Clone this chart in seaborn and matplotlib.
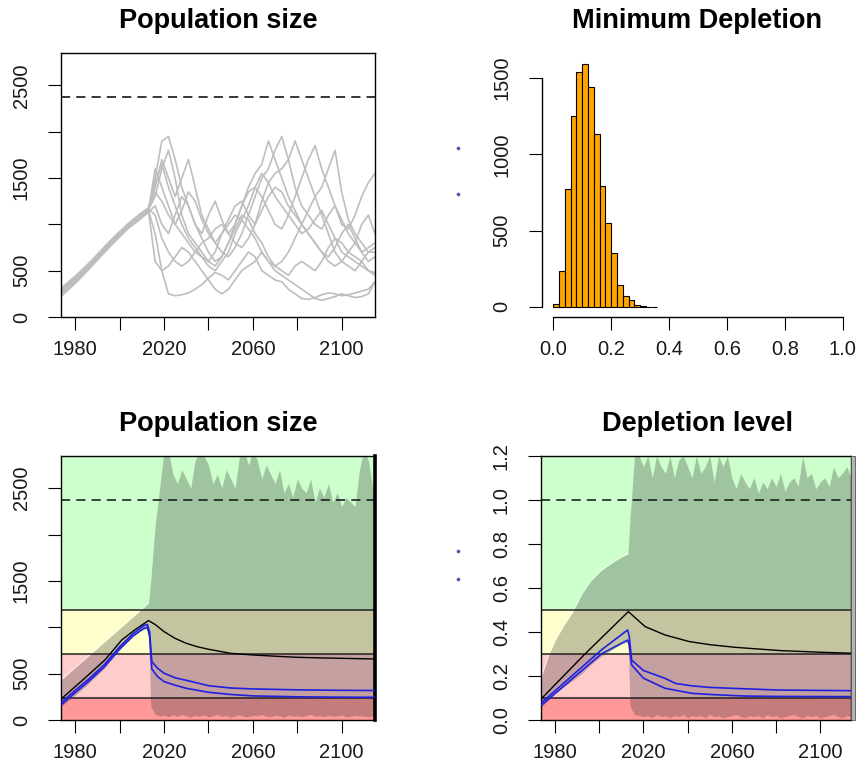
import numpy as np
import pandas as pd
import matplotlib
matplotlib.use("Agg")
import matplotlib.pyplot as plt
from matplotlib.lines import Line2D
from matplotlib.patches import Rectangle
import seaborn as sns

sns.set_style("ticks")
plt.rcParams["font.family"] = ["Liberation Sans", "DejaVu Sans"]

W, H, DPI = 859, 770, 100

# ---------------- data ----------------
K = 2376  # carrying capacity (dashed line)

# individual projected runs (top-left)
run_hist_years = [1974, 1979, 1984, 1989, 1994, 1999, 2004, 2009]
run_proj_years = list(range(2013, 2116, 3))

run01 = [250, 360, 480, 600, 730, 860, 970, 1070,
         1150, 1500, 1900, 1950, 1700, 1400, 1200, 1000, 900, 1100, 1250, 1050, 900, 1000, 1200, 1400, 1550,
         1650, 1900, 1700, 1500, 1300, 1150, 1000, 900, 800, 700, 650, 750, 900, 1000, 850, 700, 600, 650]
run02 = [290, 390, 500, 620, 750, 870, 990, 1090,
         1150, 900, 500, 250, 230, 240, 260, 300, 350, 420, 480, 450, 400, 500, 600, 700, 650,
         500, 450, 400, 380, 300, 250, 200, 190, 210, 240, 260, 250, 230, 240, 260, 280, 300, 380]
run03 = [230, 340, 460, 590, 720, 840, 960, 1060,
         1160, 1300, 1600, 1800, 1500, 1100, 900, 800, 700, 600, 550, 650, 800, 950, 1100, 1050, 900,
         800, 650, 550, 500, 450, 550, 600, 550, 500, 600, 750, 850, 800, 700, 650, 600, 500, 450]
run04 = [310, 410, 520, 640, 770, 890, 1000, 1100,
         1170, 1400, 1700, 1500, 1300, 1500, 1700, 1400, 1100, 950, 800, 700, 650, 750, 900, 1100, 1300,
         1500, 1600, 1800, 1950, 1700, 1400, 1200, 1100, 1000, 950, 1100, 1200, 1050, 900, 800, 700, 750, 800]
run05 = [270, 370, 490, 610, 740, 850, 980, 1080,
         1140, 600, 500, 550, 650, 750, 700, 600, 500, 400, 300, 250, 300, 400, 500, 550, 600,
         700, 600, 500, 450, 400, 350, 300, 250, 200, 180, 200, 220, 250, 230, 210, 220, 250, 380]
run06 = [240, 350, 470, 600, 720, 850, 960, 1050,
         1130, 1200, 1000, 900, 1100, 1300, 1200, 1000, 850, 700, 600, 650, 800, 1000, 1200, 1350, 1400,
         1300, 1150, 1000, 950, 1100, 1300, 1500, 1700, 1850, 1600, 1400, 1200, 1000, 950, 1100, 1300, 1450, 1550]
run07 = [300, 400, 510, 630, 760, 880, 990, 1090,
         1160, 1350, 1250, 1100, 1000, 1150, 1350, 1250, 1050, 900, 800, 900, 1000, 1100, 1050, 950, 850,
         700, 600, 550, 600, 700, 850, 1000, 1150, 1300, 1400, 1600, 1800, 1350, 1050, 900, 800, 700, 700]
run08 = [260, 370, 480, 610, 740, 860, 980, 1070,
         1150, 1600, 1400, 1200, 1000, 900, 800, 700, 650, 600, 700, 900, 1050, 1200, 1250, 1100, 1000,
         1250, 1450, 1550, 1600, 1700, 1900, 1700, 1500, 1300, 1100, 900, 700, 600, 550, 500, 600, 700, 750]
run09 = [280, 380, 500, 620, 750, 870, 1000, 1100,
         1170, 1100, 850, 700, 600, 550, 600, 700, 800, 850, 950, 1000, 900, 800, 750, 850, 1000,
         1150, 1300, 1400, 1350, 1200, 1100, 1000, 900, 800, 700, 600, 550, 600, 700, 800, 1000, 1100, 900]
run10 = [320, 420, 530, 650, 780, 900, 1010, 1110,
         1180, 1450, 1650, 1400, 1200, 1000, 850, 750, 650, 550, 500, 600, 700, 900, 1050, 1200, 1400,
         1550, 1450, 1300, 1200, 1100, 1000, 900, 950, 1050, 1150, 1000, 850, 700, 650, 600, 550, 500, 480]
runs = [run01, run02, run03, run04, run05, run06, run07, run08, run09, run10]

# minimum depletion histogram (top-right)
hist_edges = [round(0.02 * i, 2) for i in range(19)]
hist_counts = [18, 235, 770, 1250, 1540, 1595, 1440, 1135, 793, 552,
               354, 142, 74, 44, 9, 3, 1, 1]

# envelope of all simulations (bottom panels)
fan_hist_years = [1974, 1977, 1980, 1984, 1988, 1992, 1996, 2001, 2006, 2010, 2013]
fan_proj_years = list(range(2014, 2115, 2)) + [2116]

pop_fan_hist_hi = [440, 503, 566, 650, 734, 818, 902, 1007, 1112, 1196, 1260]
pop_fan_hist_lo = [150, 210, 270, 350, 440, 530, 640, 780, 900, 970, 980]
pop_fan_proj_hi = [1500, 2100, 2500, 2900, 2900, 2650, 2550, 2700, 2600, 2500,
                   2800, 2900, 2850, 2750, 2550, 2650, 2500, 2700, 2600, 2500,
                   2850, 2900, 2750, 2900, 2800, 2600, 2750, 2650, 2550, 2700,
                   2450, 2550, 2400, 2600, 2500, 2450, 2600, 2350, 2500, 2400,
                   2550, 2350, 2450, 2300, 2400, 2350, 2300, 2700, 2900, 2800, 2500, 2500]
pop_fan_proj_lo = [150, 60, 45, 50, 35, 55, 40, 60, 45, 30,
                   50, 40, 55, 35, 45, 60, 40, 50, 30, 45,
                   55, 40, 35, 50, 45, 60, 40, 35, 50, 45,
                   30, 55, 40, 45, 35, 50, 60, 40, 45, 35,
                   50, 40, 45, 55, 35, 40, 50, 45, 40, 35, 45, 45]

dep_fan_hist_hi = [0.20, 0.29, 0.36, 0.43, 0.49, 0.57, 0.63, 0.68, 0.715, 0.74, 0.755]
dep_fan_hist_lo = [0.06, 0.09, 0.12, 0.15, 0.18, 0.21, 0.25, 0.29, 0.32, 0.345, 0.355]
dep_fan_proj_hi = [0.92, 1.20, 1.20, 1.15, 1.20, 1.10, 1.20, 1.15, 1.12, 1.20,
                   1.10, 1.18, 1.20, 1.15, 1.10, 1.20, 1.12, 1.15, 1.20, 1.08,
                   1.20, 1.15, 1.20, 1.10, 1.05, 1.12, 1.08, 1.05, 1.10, 1.03,
                   1.08, 1.05, 1.10, 1.06, 1.12, 1.04, 1.08, 1.10, 1.06, 1.20,
                   1.10, 1.12, 1.05, 1.08, 1.10, 1.06, 1.15, 1.10, 1.12, 1.15, 1.10, 1.10]
dep_fan_proj_lo = [0.06, 0.025, 0.02, 0.015, 0.02, 0.01, 0.025, 0.015, 0.02, 0.01,
                   0.02, 0.015, 0.025, 0.01, 0.02, 0.015, 0.02, 0.01, 0.025, 0.015,
                   0.02, 0.01, 0.015, 0.02, 0.025, 0.015, 0.01, 0.02, 0.015, 0.02,
                   0.01, 0.025, 0.015, 0.02, 0.01, 0.015, 0.02, 0.025, 0.015, 0.01,
                   0.02, 0.015, 0.02, 0.01, 0.015, 0.02, 0.025, 0.015, 0.01, 0.02, 0.015, 0.015]

# summary curves (bottom panels)
pop_black_years = [1974, 1983, 1993.4, 2001, 2007, 2013, 2016, 2020, 2025, 2030,
                   2035, 2040, 2050, 2060, 2070, 2080, 2090, 2100, 2115]
pop_black = [234, 423, 648, 864, 975, 1072, 1030, 953, 880, 827,
             790, 763, 719, 701, 688, 676, 670, 665, 658]
pop_blue_years = [1974, 1980, 1986, 1993, 2000, 2006, 2011, 2012.5, 2013.5, 2014.5,
                  2017, 2020, 2025, 2030, 2040, 2050, 2060, 2080, 2100, 2115]
pop_blue_hi = [195, 320, 440, 594, 790, 930, 1020, 1030, 950, 630,
               560, 504, 455, 428, 370, 345, 335, 325, 320, 318]
pop_blue_lo = [170, 295, 415, 570, 765, 905, 990, 1000, 900, 550,
               470, 414, 375, 342, 299, 275, 260, 250, 246, 245]

dep_black_years = [1974, 1993.6, 2013.2, 2020.8, 2029.8, 2040.8, 2050, 2061.5, 2082, 2102, 2115]
dep_black = [0.098, 0.30, 0.492, 0.424, 0.386, 0.356, 0.342, 0.330, 0.315, 0.307, 0.303]
dep_blue_years = [1974, 2001, 2012.9, 2013.6, 2014.7, 2020, 2029.8, 2034.6, 2042, 2050, 2065, 2081, 2115]
dep_blue_hi = [0.079, 0.318, 0.409, 0.38, 0.272, 0.225, 0.189, 0.166, 0.155, 0.148, 0.142, 0.136, 0.133]
dep_blue_lo = [0.068, 0.30, 0.363, 0.34, 0.25, 0.19, 0.144, 0.135, 0.121, 0.116, 0.109, 0.107, 0.106]

year_ticks = [1980, 2000, 2020, 2040, 2060, 2080, 2100]
year_labels = ["1980", "", "2020", "", "2060", "", "2100"]
pop_ticks = [0, 500, 1000, 1500, 2000, 2500]
pop_labels = ["0", "500", "", "1500", "", "2500"]

# ---------------- styling ----------------
TICK_FS = 14.5
TITLE_FS = 19.5
INK = "#1a1a1a"
BAND_COLORS = ["#FF9999", "#FFCCCC", "#FFFFCC", "#CCFFCC"]
FAN_COLOR = "#3c3c3c"
FAN_ALPHA = 0.3


def px_axes(fig, left, top, right, bottom):
    return fig.add_axes([left / W, 1 - bottom / H, (right - left) / W, (bottom - top) / H])


def style_axes(ax):
    ax.tick_params(axis="both", direction="out", length=9.7, width=0.8, colors="black",
                   labelsize=TICK_FS, labelcolor=INK)
    ax.tick_params(axis="x", pad=7)
    ax.tick_params(axis="y", pad=12)
    for lab in ax.get_yticklabels():
        lab.set_rotation(90)
        lab.set_va("center")
    for sp in ax.spines.values():
        sp.set_linewidth(1.0)
        sp.set_color("black")
    ax.set_xlabel("")
    ax.set_ylabel("")


fig = plt.figure(figsize=(W / DPI, H / DPI), dpi=DPI)

# ---- top-left: projected runs ----
ax1 = px_axes(fig, 61, 53, 375, 317)
df_runs = pd.DataFrame(
    [(i, y, v) for i, r in enumerate(runs) for y, v in zip(run_hist_years + run_proj_years, r)],
    columns=["run", "year", "pop"],
)
sns.lineplot(data=df_runs, x="year", y="pop", units="run", estimator=None,
             color="#BEBEBE", linewidth=1.2, legend=False, ax=ax1)
ax1.axhline(K, color="black", lw=1.1, ls=(0, (6, 4)))
ax1.set_xlim(1973.6, 2115.0)
ax1.set_ylim(0, 2850)
ax1.set_xticks(year_ticks, year_labels)
ax1.set_yticks(pop_ticks, pop_labels)
style_axes(ax1)

# ---- top-right: histogram of minimum depletion ----
ax2 = px_axes(fig, 541.7, 50, 854.3, 316.7)
df_hist = pd.DataFrame({
    "depletion": [(a + b) / 2 for a, b in zip(hist_edges[:-1], hist_edges[1:])],
    "count": hist_counts,
})
sns.histplot(data=df_hist, x="depletion", weights="count", bins=hist_edges, color="#FFA500",
             edgecolor="black", linewidth=0.8, alpha=1.0, ax=ax2)
ax2.set_xlim(-0.04, 1.04)
ax2.set_ylim(-0.04 * 1620, 1.04 * 1620)
ax2.set_xticks([0.0, 0.2, 0.4, 0.6, 0.8, 1.0], ["0.0", "0.2", "0.4", "0.6", "0.8", "1.0"])
ax2.set_yticks([0, 500, 1000, 1500], ["0", "500", "1000", "1500"])
style_axes(ax2)
for sp in ax2.spines.values():
    sp.set_visible(False)
ax2.plot([-0.04, -0.04], [0, 1500], color="black", lw=1.0, clip_on=False)
ax2.plot([0, 1.0], [-0.04 * 1620] * 2, color="black", lw=1.0, clip_on=False)


def draw_status(ax, scale, fan_hist_hi, fan_hist_lo, fan_proj_hi, fan_proj_lo):
    bounds = [0, 0.1 * scale, 0.3 * scale, 0.5 * scale, 10 * scale]
    for c, lo, hi in zip(BAND_COLORS, bounds[:-1], bounds[1:]):
        ax.axhspan(lo, hi, color=c, lw=0, zorder=0)
    ax.fill_between(fan_hist_years + fan_proj_years, fan_hist_lo + fan_proj_lo,
                    fan_hist_hi + fan_proj_hi, color=FAN_COLOR,
                    alpha=FAN_ALPHA, lw=0, zorder=1)
    ax.plot(fan_hist_years, fan_hist_hi, color="white", alpha=0.55, lw=0.8, zorder=1.5)
    for b in bounds[1:4]:
        ax.axhline(b, color="#222222", lw=1.1, zorder=2)
    ax.axhline(scale, color="#111111", lw=1.1, ls=(0, (6, 4)), zorder=2)


# ---- bottom-left: population size with status bands ----
ax3 = px_axes(fig, 61, 455.7, 375, 720)
draw_status(ax3, K, pop_fan_hist_hi, pop_fan_hist_lo, pop_fan_proj_hi, pop_fan_proj_lo)
sns.lineplot(x=pop_black_years, y=pop_black, color="black", lw=1.0, ax=ax3, zorder=3)
sns.lineplot(x=pop_blue_years, y=pop_blue_hi, color="#2020E0", lw=1.2, ax=ax3, zorder=3)
sns.lineplot(x=pop_blue_years, y=pop_blue_lo, color="#2020E0", lw=1.2, ax=ax3, zorder=3)
ax3.set_xlim(1973.6, 2115.0)
ax3.set_ylim(0, 2850)
ax3.set_xticks(year_ticks, year_labels)
ax3.set_yticks(pop_ticks, pop_labels)
style_axes(ax3)
ax3.spines["right"].set_linewidth(2.6)

# ---- bottom-right: depletion with status bands ----
ax4 = px_axes(fig, 541, 455.7, 851, 720)
draw_status(ax4, 1.0, dep_fan_hist_hi, dep_fan_hist_lo, dep_fan_proj_hi, dep_fan_proj_lo)
sns.lineplot(x=dep_black_years, y=dep_black, color="black", lw=1.0, ax=ax4, zorder=3)
sns.lineplot(x=dep_blue_years, y=dep_blue_hi, color="#2020E0", lw=1.2, ax=ax4, zorder=3)
sns.lineplot(x=dep_blue_years, y=dep_blue_lo, color="#2020E0", lw=1.2, ax=ax4, zorder=3)
ax4.set_xlim(1973.7, 2113.9)
ax4.set_ylim(0, 1.2)
ax4.set_xticks(year_ticks, year_labels)
ax4.set_yticks([0, 0.2, 0.4, 0.6, 0.8, 1.0, 1.2],
               ["0.0", "0.2", "0.4", "0.6", "0.8", "1.0", "1.2"])
style_axes(ax4)
ax4.add_patch(Rectangle((1.0, 0), 4 / 310, 1, transform=ax4.transAxes, facecolor="#B4B4B4",
                        edgecolor="#555555", lw=0.6, clip_on=False, zorder=5))

# ---- titles ----
for txt, xc, yc in [("Population size", 218, 21), ("Minimum Depletion", 697, 21),
                    ("Population size", 218, 424), ("Depletion level", 697, 424)]:
    fig.text(xc / W, 1 - yc / H, txt, ha="center", va="center",
             fontsize=TITLE_FS, fontweight="bold", color="black")

# small marks left of the right-hand panels
for yp in (148, 194, 551, 579):
    fig.add_artist(Line2D([458 / W], [1 - yp / H], marker="o", ms=1.6, lw=0,
                          color="#4a5aa8", transform=fig.transFigure))

fig.savefig("out.png", dpi=DPI)
